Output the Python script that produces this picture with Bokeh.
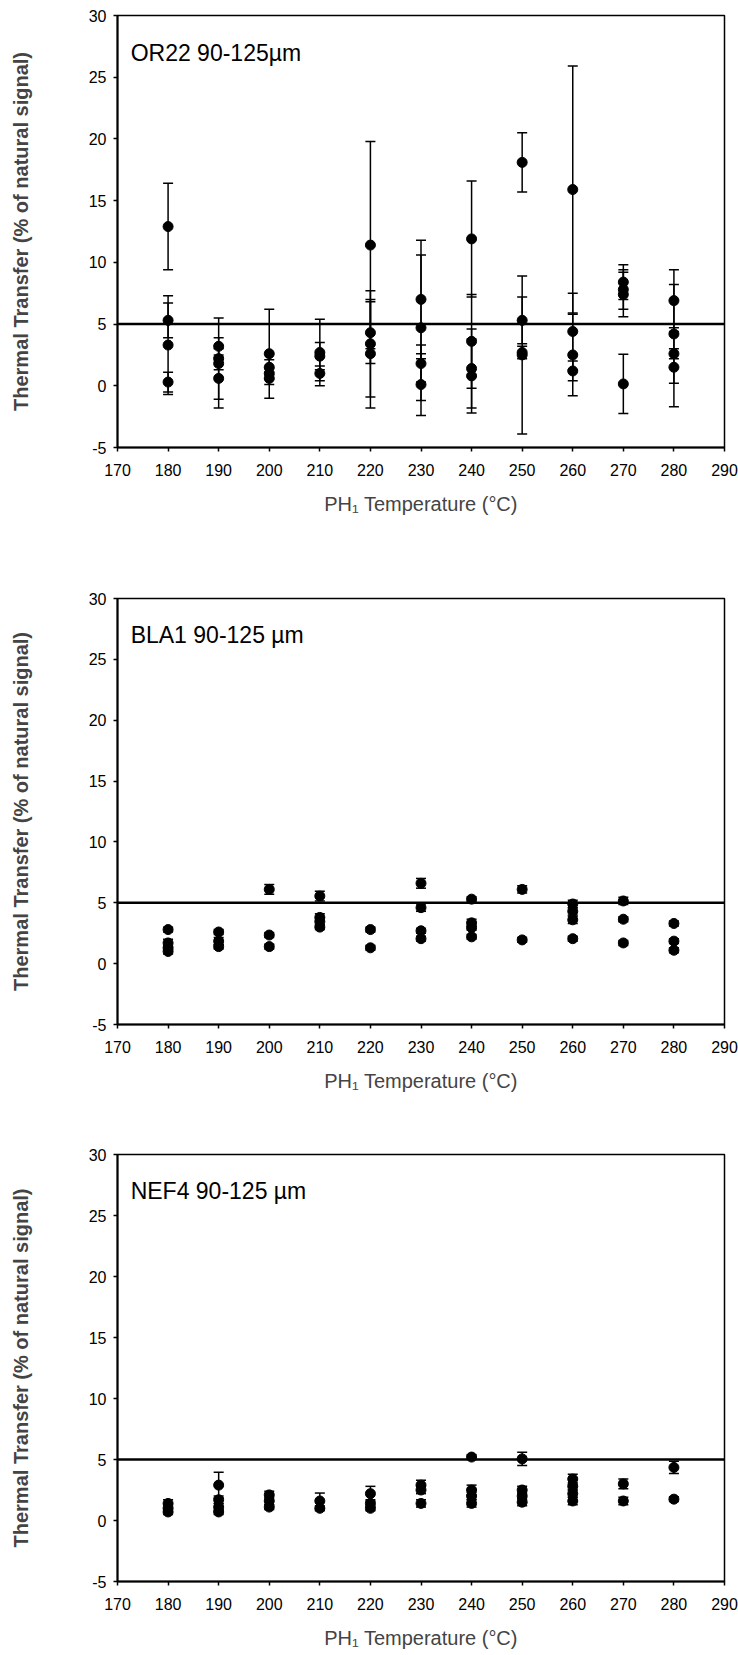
from bokeh.plotting import figure
from bokeh.models import ColumnDataSource, Whisker, TeeHead, Span, Label, FixedTicker
from bokeh.layouts import column
from bokeh.embed import file_html
from bokeh.resources import INLINE

# ---------------- data ----------------
x_ticks = [170, 180, 190, 200, 210, 220, 230, 240, 250, 260, 270, 280, 290]
y_ticks = [-5, 0, 5, 10, 15, 20, 25, 30]
y_tick_labels = ["-5", "0", "5", "10", "15", "20", "25", "30"]
threshold = 5

x_or22 = [180] * 4 + [190] * 4 + [200] * 4 + [210] * 3 + [220] * 4 + [230] * 4 + \
         [240] * 4 + [250] * 4 + [260] * 4 + [270] * 4 + [280] * 4
y_or22 = [12.9, 5.3, 3.3, 0.3, 3.2, 2.2, 1.8, 0.6, 2.6, 1.5, 1.0, 0.6, 2.7, 2.4, 1.0,
          11.4, 4.3, 3.4, 2.6, 7.0, 4.7, 1.8, 0.1, 11.9, 3.6, 1.4, 0.8, 18.1, 5.3, 2.7, 2.5,
          15.9, 4.4, 2.5, 1.2, 8.4, 7.8, 7.4, 0.15, 6.9, 4.2, 2.6, 1.5]
e_or22 = [3.5, 1.4, 4.0, 0.8, 0.7, 3.3, 0.5, 2.4, 3.6, 0.6, 0.4, 0.5, 2.7, 1.1, 0.6,
          8.4, 2.5, 4.3, 4.4, 4.8, 5.9, 1.5, 2.5, 4.7, 3.8, 3.2, 3.0, 2.4, 1.9, 0.5, 6.4,
          10.0, 3.1, 3.3, 0.8, 1.4, 1.6, 1.8, 2.4, 2.5, 4.0, 0.4, 3.2]

x_bla1 = [180] * 4 + [190] * 3 + [200] * 3 + [210] * 4 + [220] * 2 + [230] * 4 + \
         [240] * 4 + [250] * 2 + [260] * 4 + [270] * 3 + [280] * 3
y_bla1 = [2.8, 1.7, 1.3, 1.0, 2.6, 1.85, 1.4, 6.1, 2.35, 1.4, 5.55, 3.8, 3.45, 3.0,
          2.8, 1.3, 6.6, 4.6, 2.7, 2.05, 5.3, 3.35, 2.95, 2.2, 6.1, 1.95,
          4.9, 4.3, 3.6, 2.05, 5.15, 3.65, 1.7, 3.3, 1.85, 1.1]
e_bla1 = [0.2, 0.3, 0.2, 0.2, 0.2, 0.3, 0.2, 0.4, 0.2, 0.2, 0.4, 0.3, 0.3, 0.2,
          0.2, 0.2, 0.4, 0.3, 0.2, 0.2, 0.2, 0.3, 0.2, 0.2, 0.3, 0.2,
          0.3, 0.3, 0.3, 0.2, 0.3, 0.2, 0.2, 0.2, 0.2, 0.2]

x_nef4 = [180] * 3 + [190] * 4 + [200] * 3 + [210] * 2 + [220] * 3 + [230] * 3 + \
         [240] * 4 + [250] * 4 + [260] * 4 + [270] * 2 + [280] * 2
y_nef4 = [1.4, 1.0, 0.7, 2.9, 1.7, 1.1, 0.7, 2.1, 1.6, 1.1, 1.6, 1.0, 2.2, 1.4, 1.0,
          2.9, 2.5, 1.4, 5.2, 2.5, 2.0, 1.4, 5.05, 2.5, 2.0, 1.5, 3.4, 2.8, 2.2, 1.6,
          3.0, 1.6, 4.35, 1.75]
e_nef4 = [0.3, 0.3, 0.2, 1.05, 0.3, 0.3, 0.2, 0.3, 0.3, 0.2, 0.65, 0.2, 0.6, 0.3, 0.2,
          0.4, 0.3, 0.3, 0.2, 0.4, 0.3, 0.3, 0.55, 0.3, 0.3, 0.3, 0.4, 0.3, 0.3, 0.3,
          0.4, 0.3, 0.5, 0.2]

labels = ["OR22 90-125\u00b5m", "BLA1 90-125 \u00b5m", "NEF4 90-125 \u00b5m"]
x_title = "PH\u2081 Temperature (\u00b0C)"
y_title = "Thermal Transfer (% of natural signal)"

FONT = "Liberation Sans"


def make_panel(xs, ys, es, label, height, top, bottom):
    p = figure(width=738, height=height, x_range=(170, 290), y_range=(-5, 30),
               output_backend="svg", toolbar_location=None,
               min_border_left=117, min_border_right=14,
               min_border_top=top, min_border_bottom=bottom)
    p.xaxis.ticker = FixedTicker(ticks=x_ticks)
    p.yaxis.ticker = FixedTicker(ticks=y_ticks)
    p.yaxis.major_label_overrides = dict(zip(y_ticks, y_tick_labels))
    p.xgrid.visible = False
    p.ygrid.visible = False
    p.axis.minor_tick_line_color = None
    p.axis.major_tick_in = 0
    p.axis.major_tick_out = 4
    p.axis.major_tick_line_width = 1.5
    p.axis.axis_line_width = 2
    p.axis.axis_line_color = "black"
    p.axis.major_tick_line_color = "black"
    p.axis.major_label_text_font = FONT
    p.axis.major_label_text_font_size = "16px"
    p.axis.major_label_text_color = "black"
    p.xaxis.major_label_standoff = 12
    p.yaxis.major_label_standoff = 7
    p.xaxis.axis_label = x_title
    p.xaxis.axis_label_text_font = FONT
    p.xaxis.axis_label_text_font_style = "normal"
    p.xaxis.axis_label_text_font_size = "20px"
    p.xaxis.axis_label_standoff = 14
    p.yaxis.axis_label = y_title
    p.yaxis.axis_label_text_font = FONT
    p.yaxis.axis_label_text_font_style = "bold"
    p.yaxis.axis_label_text_font_size = "20px"
    p.yaxis.axis_label_standoff = 54
    p.outline_line_color = "black"
    p.outline_line_width = 1.5
    p.outline_line_alpha = 1.0

    src = ColumnDataSource(dict(
        x=xs, y=ys,
        upper=[a + b for a, b in zip(ys, es)],
        lower=[a - b for a, b in zip(ys, es)],
    ))
    p.add_layout(Span(location=threshold, dimension="width",
                      line_color="black", line_width=2.5))
    p.add_layout(Whisker(base="x", upper="upper", lower="lower", source=src,
                         line_color="black", line_width=1.5, level="glyph",
                         upper_head=TeeHead(size=10, line_color="black", line_width=1.5),
                         lower_head=TeeHead(size=10, line_color="black", line_width=1.5)))
    p.scatter("x", "y", source=src, size=10, marker="circle",
              fill_color="black", line_color="black")
    p.add_layout(Label(x=172.6, y=27.0, text=label, text_font=FONT,
                       text_font_size="23px", text_color="black",
                       text_baseline="alphabetic"))
    return p


p1 = make_panel(x_or22, y_or22, e_or22, labels[0], 560, 15, 113)
p2 = make_panel(x_bla1, y_bla1, e_bla1, labels[1], 540, 38, 76)
p3 = make_panel(x_nef4, y_nef4, e_nef4, labels[2], 555, 54, 74)

layout = column(p1, p2, p3, spacing=0)
open("out.html", "w").write(file_html(layout, INLINE))
